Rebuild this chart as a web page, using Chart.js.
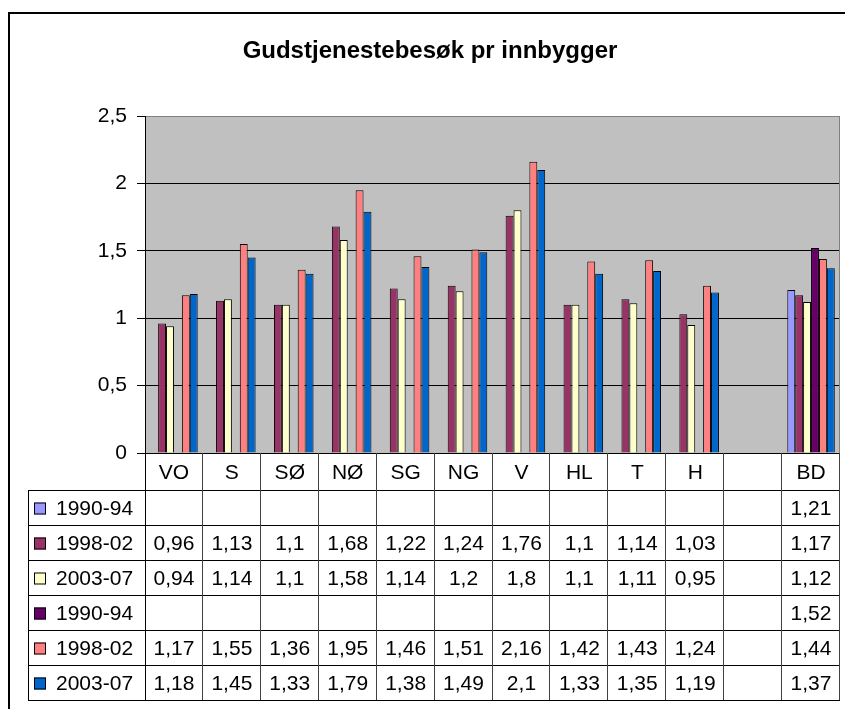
<!DOCTYPE html>
<html>
<head>
<meta charset="utf-8">
<script src="https://cdn.jsdelivr.net/npm/chart.js@4.4.0/dist/chart.umd.min.js"></script>
<style>
  html, body { margin: 0; padding: 0; background: #fff; }
  canvas { display: block; }
</style>
</head>
<body>
<canvas id="chart" width="845" height="709"></canvas>
<script>
const Areas = ['VO', 'S', 'SØ', 'NØ', 'SG', 'NG', 'V', 'HL', 'T', 'H', '', 'BD']
const SeriesNames = ['1990-94', '1998-02', '2003-07', '1990-94', '1998-02', '2003-07']
const SeriesColors = ['#9999FF', '#993366', '#FFFFCC', '#660066', '#FF8080', '#0066CC']
const a1990 = [null, null, null, null, null, null, null, null, null, null, null, 1.21]
const a1998 = [0.96, 1.13, 1.1, 1.68, 1.22, 1.24, 1.76, 1.1, 1.14, 1.03, null, 1.17]
const a2003 = [0.94, 1.14, 1.1, 1.58, 1.14, 1.2, 1.8, 1.1, 1.11, 0.95, null, 1.12]
const b1990 = [null, null, null, null, null, null, null, null, null, null, null, 1.52]
const b1998 = [1.17, 1.55, 1.36, 1.95, 1.46, 1.51, 2.16, 1.42, 1.43, 1.24, null, 1.44]
const b2003 = [1.18, 1.45, 1.33, 1.79, 1.38, 1.49, 2.1, 1.33, 1.35, 1.19, null, 1.37]
const yTicks = [0, 0.5, 1, 1.5, 2, 2.5]
const SeriesData = [a1990, a1998, a2003, b1990, b1998, b2003]

const FONT = '"Liberation Sans", Arial, sans-serif'
const comma = v => String(v).replace('.', ',')

// grey plot area + outer frame
const backdrop = {
    id: 'backdrop',
    beforeDraw(chart) {
        const c = chart.ctx, a = chart.chartArea;
        c.save();
        c.fillStyle = '#C0C0C0';
        c.fillRect(a.left, a.top, a.right - a.left, a.bottom - a.top);
        c.strokeStyle = '#000';
        c.lineWidth = 2;
        c.strokeRect(9, 13, 900, 800);
        c.restore();
    },
    afterDatasetsDraw(chart) {
        const c = chart.ctx, a = chart.chartArea;
        c.save();
        c.strokeStyle = '#808080';
        c.lineWidth = 1;
        c.beginPath();
        c.moveTo(a.right - 0.5, a.top);
        c.lineTo(a.right - 0.5, a.bottom);
        c.stroke();
        c.restore();
    }
};

// data table under the axis
const dataTable = {
    id: 'dataTable',
    afterDraw(chart) {
        const c = chart.ctx, a = chart.chartArea, x = chart.scales.x;
        const colW = (a.right - a.left) / Areas.length;
        const headTop = a.bottom, headBot = 490, rowH = 35, tableLeft = 28;
        const rows = SeriesNames.length;
        const tableBot = headBot + rows * rowH;
        c.save();
        c.lineWidth = 1;
        // horizontal lines
        c.strokeStyle = '#000';
        c.beginPath();
        for (let r = 0; r <= rows; r++) {
            const y = Math.round(headBot + r * rowH) + 0.5;
            c.moveTo(tableLeft, y);
            c.lineTo(a.right, y);
        }
        c.moveTo(tableLeft + 0.5, headBot);
        c.lineTo(tableLeft + 0.5, tableBot);
        c.moveTo(a.left + 0.5, headTop);
        c.lineTo(a.left + 0.5, tableBot);
        c.stroke();
        c.strokeStyle = '#404040';
        c.beginPath();
        for (let i = 1; i <= Areas.length; i++) {
            const xx = Math.round(a.left + i * colW) - 0.5;
            c.moveTo(xx, headTop);
            c.lineTo(xx, tableBot);
        }
        c.stroke();

        c.fillStyle = '#000';
        c.font = '21px ' + FONT;
        c.textBaseline = 'middle';
        c.textAlign = 'center';
        Areas.forEach((lab, i) => {
            c.fillText(lab, x.getPixelForValue(i), (headTop + headBot) / 2 + 2);
        });
        SeriesNames.forEach((name, r) => {
            const cy = headBot + r * rowH + rowH / 2 + 2;
            c.fillStyle = SeriesColors[r];
            c.fillRect(34, cy - 7, 12, 12);
            c.strokeStyle = '#000';
            c.strokeRect(34.5, cy - 6.5, 11, 11);
            c.fillStyle = '#000';
            c.textAlign = 'left';
            c.fillText(name, 56, cy);
            c.textAlign = 'center';
            SeriesData[r].forEach((v, i) => {
                if (v !== null) c.fillText(comma(v), x.getPixelForValue(i), cy);
            });
        });
        c.restore();
    }
};

const ctx = document.getElementById('chart').getContext('2d');
const chart = new Chart(ctx, {
    type: 'bar',
    data: {
        labels: Areas,
        datasets: SeriesData.map((d, i) => ({
            label: SeriesNames[i],
            data: d,
            backgroundColor: SeriesColors[i],
            borderColor: '#000',
            borderWidth: 1,
            categoryPercentage: 0.82,
            barPercentage: 1,
        }))
    },
    options: {
        responsive: false,
        animation: false,
        devicePixelRatio: 1,
        layout: {
            padding: { left: 20, right: 5, top: 0, bottom: 256 }
        },
        scales: {
            x: {
                display: false,
            },
            y: {
                min: 0,
                max: 2.5,
                afterFit: axis => { axis.width = 125; },
                afterBuildTicks: axis => { axis.ticks = yTicks.map(v => ({ value: v })); },
                ticks: {
                    padding: 10,
                    color: '#000',
                    font: { family: FONT, size: 21 },
                    callback: v => comma(v),
                },
                grid: {
                    color: c => (c.tick && c.tick.value === 2.5) ? '#808080' : '#000',
                    tickColor: '#000',
                    tickLength: 8,
                    lineWidth: 1,
                },
                border: { display: true, color: '#000', width: 1 },
            },
        },
        plugins: {
            legend: { display: false },
            tooltip: { enabled: false },
            title: {
                display: true,
                text: 'Gudstjenestebesøk pr innbygger',
                color: '#000',
                font: { family: FONT, size: 24, weight: 'bold' },
                padding: { top: 37, bottom: 50.2 },
            },
        }
    },
    plugins: [backdrop, dataTable]
});
</script>
</body>
</html>
